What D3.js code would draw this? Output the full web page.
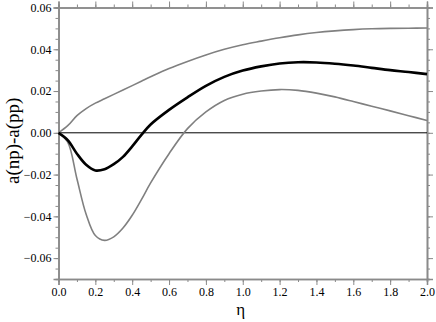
<!DOCTYPE html>
<html>
<head>
<meta charset="utf-8">
<script src="https://cdn.jsdelivr.net/npm/d3@7"></script>
<style>
  body { margin: 0; background: #fff; }
  text { font-family: "Liberation Serif", "Times New Roman", Times, serif; }
</style>
</head>
<body>
<svg id="chart"></svg>
<script>
// eta values and the three curves
const eta = [0, 0.05, 0.1, 0.15, 0.2, 0.25, 0.3, 0.35, 0.4, 0.45, 0.5, 0.6, 0.7, 0.8, 0.9, 1.0,
             1.1, 1.2, 1.3, 1.4, 1.5, 1.6, 1.7, 1.8, 1.9, 2.0];
const central = [0, -0.0035, -0.0100, -0.0153, -0.0180, -0.0174, -0.0150, -0.0115, -0.0065,
                 -0.0010, 0.0040, 0.0110, 0.0170, 0.0225, 0.0268, 0.0298, 0.0318, 0.0332,
                 0.0338, 0.0337, 0.0331, 0.0322, 0.0311, 0.0300, 0.0291, 0.0281];
const lower = [0, -0.0045, -0.0220, -0.0390, -0.0492, -0.0515, -0.0498, -0.0456, -0.0395,
               -0.0320, -0.0240, -0.0100, 0.0020, 0.0100, 0.0155, 0.0185, 0.0200, 0.0207,
               0.0203, 0.0190, 0.0172, 0.0150, 0.0127, 0.0105, 0.0082, 0.0059];
const upper = [0, 0.0034, 0.0082, 0.0116, 0.0142, 0.0163, 0.0184, 0.0205, 0.0226,
               0.0247, 0.0268, 0.0308, 0.0342, 0.0373, 0.0400, 0.0422, 0.0439, 0.0455,
               0.0469, 0.0480, 0.0488, 0.0494, 0.0498, 0.0500, 0.0501, 0.0502];
const xTicks = [0, 0.2, 0.4, 0.6, 0.8, 1.0, 1.2, 1.4, 1.6, 1.8, 2.0];
const yTicks = [-0.06, -0.04, -0.02, 0, 0.02, 0.04, 0.06];

const W = 436, H = 322;
const margin = { top: 7.5, right: 9, bottom: 43, left: 58.5 };
const width = W - margin.left - margin.right;
const height = H - margin.top - margin.bottom;

const svg = d3.select('#chart').attr('width', W).attr('height', H);
const g = svg.append('g').attr('transform', `translate(${margin.left},${margin.top})`);

const x = d3.scaleLinear().domain([0, 2]).range([0, width]);
const y = d3.scaleLinear().domain([-0.07, 0.06]).range([height, 0]);

const axisCol = '#8a8a8a';
const serif = '"Liberation Serif", "Times New Roman", Times, serif';
const xMinor = d3.range(0, 2.0001, 0.1);
const yMinor = d3.range(-0.07, 0.06001, 0.005);

function styleAxis(sel) {
  sel.attr('font-family', serif);
  sel.select('.domain').attr('stroke', axisCol).attr('stroke-width', 1.6);
  sel.selectAll('.tick line').attr('stroke', axisCol);
  sel.selectAll('.tick text').attr('fill', '#000').style('font-size', '12px')
    .style('font-family', serif);
}

// minor ticks, all four sides
g.append('g').attr('transform', `translate(0,${height})`)
  .call(d3.axisBottom(x).tickValues(xMinor).tickSize(3).tickFormat(''))
  .call(styleAxis);
g.append('g')
  .call(d3.axisTop(x).tickValues(xMinor).tickSize(3).tickFormat(''))
  .call(styleAxis);
g.append('g')
  .call(d3.axisLeft(y).tickValues(yMinor).tickSize(3).tickFormat(''))
  .call(styleAxis);
g.append('g').attr('transform', `translate(${width},0)`)
  .call(d3.axisRight(y).tickValues(yMinor).tickSize(3).tickFormat(''))
  .call(styleAxis);

// major ticks with labels
g.append('g').attr('transform', `translate(0,${height})`)
  .call(d3.axisBottom(x).tickValues(xTicks).tickSize(6).tickPadding(2).tickFormat(d3.format('.1f')))
  .call(styleAxis);
g.append('g')
  .call(d3.axisTop(x).tickValues(xTicks).tickSize(6).tickFormat(''))
  .call(styleAxis);
g.append('g')
  .call(d3.axisLeft(y).tickValues(yTicks).tickSize(5).tickPadding(2).tickFormat(d3.format('.2f')))
  .call(styleAxis);
g.append('g').attr('transform', `translate(${width},0)`)
  .call(d3.axisRight(y).tickValues(yTicks).tickSize(6).tickFormat(''))
  .call(styleAxis);

// zero line
g.append('line')
  .attr('x1', 0).attr('x2', width)
  .attr('y1', y(0)).attr('y2', y(0))
  .attr('stroke', '#000').attr('stroke-width', 1);

const line = d3.line()
  .x((d, i) => x(eta[i]))
  .y(d => y(d))
  .curve(d3.curveCatmullRom.alpha(0.5));

g.append('path').datum(upper)
  .attr('d', line).attr('fill', 'none')
  .attr('stroke', '#808080').attr('stroke-width', 1.6);
g.append('path').datum(lower)
  .attr('d', line).attr('fill', 'none')
  .attr('stroke', '#808080').attr('stroke-width', 1.6);
g.append('path').datum(central)
  .attr('d', line).attr('fill', 'none')
  .attr('stroke', '#000').attr('stroke-width', 2.6);

// axis titles
svg.append('text')
  .attr('x', margin.left + width / 2 - 2).attr('y', 315)
  .attr('text-anchor', 'middle')
  .style('font-size', '17px')
  .text('η');
svg.append('text')
  .attr('transform', `translate(19,${margin.top + y(0) + 8}) rotate(-90)`)
  .attr('text-anchor', 'middle')
  .style('font-size', '19px')
  .text('a(np)-a(pp)');
</script>
</body>
</html>
